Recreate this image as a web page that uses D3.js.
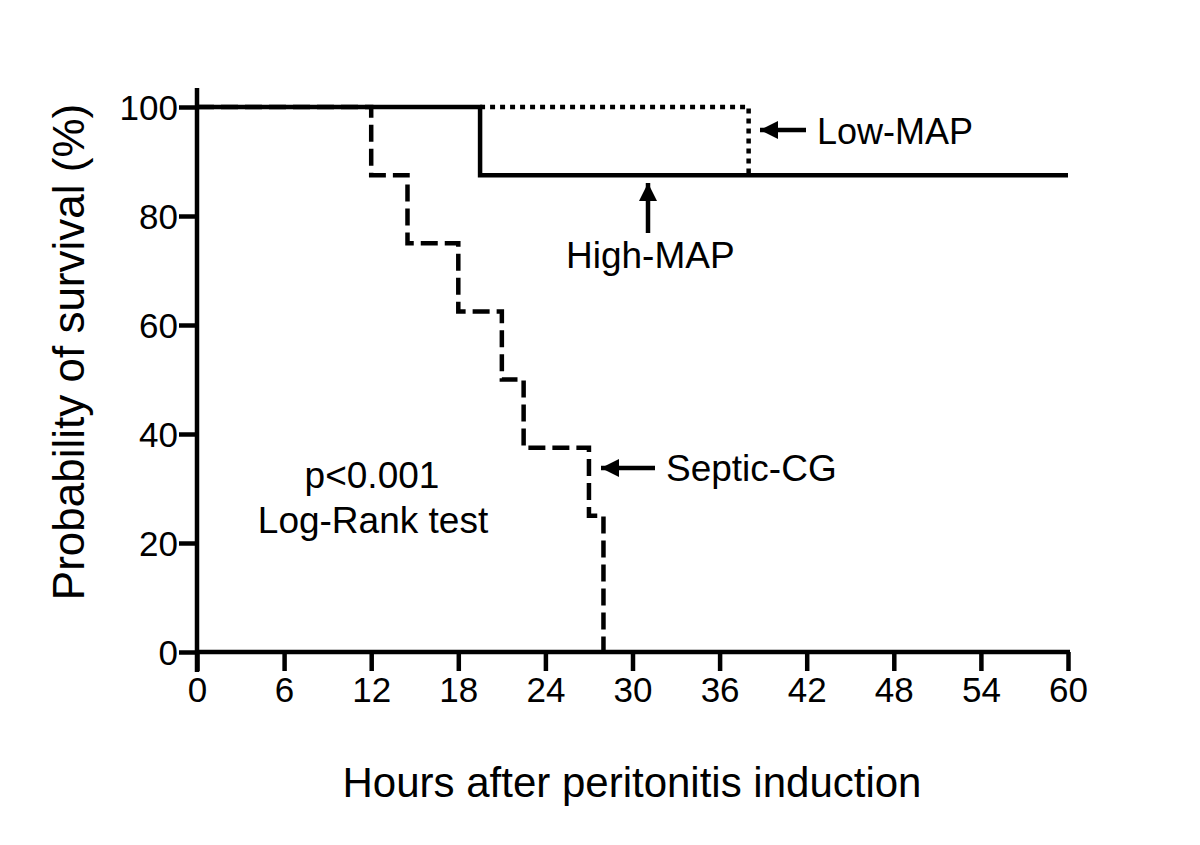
<!DOCTYPE html>
<html><head><meta charset="utf-8">
<script src="https://cdnjs.cloudflare.com/ajax/libs/d3/7.8.5/d3.min.js"></script>
<style>body{margin:0;background:#fff}svg text{font-family:"Liberation Sans",Arial,sans-serif;fill:#000}</style>
</head><body><svg id="c" width="1200" height="845"></svg>
<script>
// Kaplan-Meier step data (hours, % survival)
const xTicks = [0,6,12,18,24,30,36,42,48,54,60];
const yTicks = [0,20,40,60,80,100];
const septicTimes = [0,12,14.5,18,21,22.5,27,28];
const septicSurv  = [100,87.5,75,62.5,50,37.5,25,0];
const highTimes = [0,19.5,60];
const highSurv  = [100,87.5,87.5];
const lowTimes = [19.5,38,60];
const lowSurv  = [100,87.5,87.5];

const svg = d3.select("#c");
const x = d3.scaleLinear().domain([0,60]).range([197,1068]);
const y = d3.scaleLinear().domain([0,100]).range([652,107]);
const SW = 4.5;

// axes
const xa = svg.append("g").attr("transform","translate(0,652)")
  .call(d3.axisBottom(x).tickValues(xTicks).tickSize(19).tickPadding(6).tickSizeOuter(0));
const ya = svg.append("g").attr("transform","translate(197,0)")
  .call(d3.axisLeft(y).tickValues(yTicks).tickSize(18).tickPadding(1).tickSizeOuter(0));
[xa,ya].forEach(a=>{
  a.attr("font-size",35);
  a.selectAll("path,line").attr("stroke","#000").attr("stroke-width",SW);
  a.selectAll("text").style("font-size","35px").style("font-family","Liberation Sans, Arial, sans-serif").attr("fill","#000");
});
ya.select(".domain").attr("d","M0,88V672");
xa.select(".domain").attr("d",`M${197-2},0H${1070}`);
ya.selectAll("text").attr("dy","0.35em");

function stepPts(t,s){
  const pts=[];
  for(let i=0;i<t.length;i++){
    if(i>0) pts.push([t[i], s[i-1]]);
    pts.push([t[i], s[i]]);
  }
  return pts;
}
const line = d3.line().x(d=>x(d[0])).y(d=>y(d[1]));

// high-MAP solid
svg.append("path").attr("d",line(stepPts(highTimes,highSurv)))
  .attr("fill","none").attr("stroke","#000").attr("stroke-width",SW);
// low-MAP dotted
svg.append("path").attr("d",line(stepPts(lowTimes,lowSurv).slice(0,3)))
  .attr("fill","none").attr("stroke","#000").attr("stroke-width",SW)
  .attr("stroke-dasharray","5,5");
// septic dashed
svg.append("path").attr("d",line(stepPts(septicTimes,septicSurv)))
  .attr("fill","none").attr("stroke","#000").attr("stroke-width",SW)
  .attr("stroke-dasharray","17,7");

// arrows
const defs = svg.append("defs");
defs.append("marker").attr("id","ah").attr("viewBox","0 0 10 10").attr("refX",10).attr("refY",5)
  .attr("markerWidth",4.2).attr("markerHeight",4).attr("markerUnits","strokeWidth").attr("orient","auto")
  .append("path").attr("d","M0,0L10,5L0,10z").attr("fill","#000");
function arrow(x1,y1,x2,y2){
  svg.append("line").attr("x1",x1).attr("y1",y1).attr("x2",x2).attr("y2",y2)
    .attr("stroke","#000").attr("stroke-width",SW).attr("marker-end","url(#ah)");
}
arrow(806,130,760,130);
arrow(648,233,648,183);
arrow(655,468,601,468);

const txt=(s,xx,yy,fs,anchor)=>svg.append("text").attr("x",xx).attr("y",yy).attr("font-size",fs)
  .attr("text-anchor",anchor||"start").text(s);
txt("Low-MAP",817,144,36);
txt("High-MAP",566,268,37);
txt("Septic-CG",666,481,37);
txt("p<0.001",372,488,37,"middle");
txt("Log-Rank test",373,533,37,"middle");
txt("Hours after peritonitis induction",632,797,42,"middle");
svg.append("text").attr("transform","translate(84,352) rotate(-90)").attr("text-anchor","middle")
  .attr("font-size",44).text("Probability of survival (%)");
</script></body></html>
